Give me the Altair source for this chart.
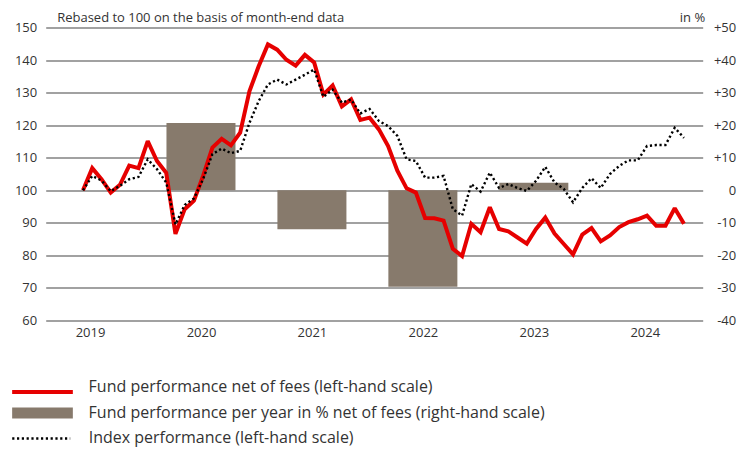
import altair as alt
import pandas as pd

# ---- data ----
fund = [100.0, 106.8, 103.4, 99.3, 101.7, 107.6, 106.8, 115.1, 109.0, 105.4,
        86.6, 94.2, 96.8, 104.5, 113.1, 115.8, 113.8, 117.7, 130.4, 138.1,
        144.8, 143.2, 140.1, 138.3, 141.6, 139.3, 129.4, 132.2, 125.8, 127.9,
        121.6, 122.3, 118.7, 113.6, 106.0, 100.6, 99.3, 91.5, 91.4, 90.7,
        82.0, 79.8, 89.7, 87.1, 94.8, 88.1, 87.4, 85.5, 83.6, 88.1,
        91.6, 86.7, 83.5, 80.3, 86.4, 88.4, 84.3, 86.1, 88.7, 90.2,
        91.1, 92.2, 89.1, 89.1, 94.5, 89.7]
index_perf = [100.0, 104.4, 103.0, 99.7, 101.4, 103.4, 104.1, 109.5, 106.5, 102.4,
              89.5, 95.5, 97.5, 103.5, 111.1, 112.8, 111.4, 112.1, 120.7, 127.4,
              132.5, 134.0, 132.5, 134.0, 135.5, 137.1, 128.7, 130.9, 126.9, 127.9,
              123.6, 125.0, 121.3, 119.7, 116.7, 109.5, 109.0, 103.9, 103.9, 104.4,
              94.2, 92.2, 101.9, 99.6, 105.4, 100.7, 101.9, 100.7, 99.8, 102.9,
              107.2, 102.4, 100.4, 96.3, 100.7, 103.7, 100.7, 105.0, 107.5, 109.2,
              109.2, 113.6, 113.9, 113.9, 119.2, 116.1]
bar_years = [2020, 2021, 2022, 2023]
bar_values = [20.7, -12.0, -29.6, 2.3]
year_labels = [2019, 2020, 2021, 2022, 2023, 2024]
left_ticks = [60, 70, 80, 90, 100, 110, 120, 130, 140, 150]
right_ticks = [-40, -30, -20, -10, 0, 10, 20, 30, 40, 50]

L1 = "Fund performance net of fees (left-hand scale)"
L2 = "Fund performance per year in % net of fees (right-hand scale)"
L3 = "Index performance (left-hand scale)"
TITLE_L = "Rebased to 100 on the basis of month-end data"
TITLE_R = "in %"

FONT = "Open Sans"
TXT = "#333333"
RED = "#e60000"
BROWN = "#877a6c"
GRID = "#828282"

# month-end positions as decimal years (first point: end of May 2019)
t = [2019 + 5 / 12 + i / 12 for i in range(len(fund))]
fund_df = pd.DataFrame({"t": t, "v": fund, "lbl": L1})
idx_df = pd.DataFrame({"t": t, "v": index_perf, "lbl": L3})
bar_df = pd.DataFrame({"year": bar_years, "v": bar_values, "lbl": L2})

xscale = alt.Scale(domain=[2019.0805, 2025.002], nice=False, zero=False)
x_axis = alt.Axis(values=[y + 0.48 for y in year_labels], labelExpr="'' + floor(datum.value)",
                  grid=False, domain=False, ticks=False, tickSize=0, labelPadding=6.5,
                  labelFontSize=13, labelFont=FONT, labelColor=TXT, title=None)

left_axis = alt.Axis(orient="left", values=left_ticks, grid=True, gridColor=GRID, gridWidth=1.6,
                     domain=False, ticks=False, tickSize=0, labelPadding=9, labelFontSize=13,
                     labelFont=FONT, labelColor=TXT, title=TITLE_L, titleAngle=0,
                     titleAlign="left", titleBaseline="alphabetic", titleX=11, titleY=-6.5,
                     titleFont=FONT, titleFontSize=13, titleFontWeight="normal", titleColor=TXT)
right_axis = alt.Axis(orient="right", values=right_ticks, grid=False, domain=False, ticks=False,
                      tickSize=0, labelAlign="right", labelPadding=33,
                      labelExpr="datum.value > 0 ? '+' + datum.value : '' + datum.value",
                      labelFontSize=13, labelFont=FONT, labelColor=TXT, title=TITLE_R, titleAngle=0,
                      titleAlign="right", titleBaseline="alphabetic", titleX=2, titleY=-6.5,
                      titleFont=FONT, titleFontSize=13, titleFontWeight="normal", titleColor=TXT)

leg_common = dict(orient="none", title=None, padding=0, offset=0, labelFont=FONT,
                  labelFontSize=16, labelColor=TXT, labelLimit=700)

bars = alt.Chart(bar_df).transform_calculate(
    x1="datum.year + 0.48 - 0.311", x2="datum.year + 0.48 + 0.311"
).mark_rect().encode(
    x=alt.X("x1:Q", scale=xscale, axis=x_axis),
    x2="x2:Q",
    y=alt.Y("v:Q", scale=alt.Scale(domain=[-40, 50], nice=False), axis=right_axis),
    y2=alt.datum(0),
    fill=alt.Fill("lbl:N", scale=alt.Scale(domain=[L2], range=[BROWN]),
                  legend=alt.Legend(symbolType="M-1,-0.18H1V0.18H-1Z", symbolSize=3684,
                                    symbolStrokeWidth=0, symbolOpacity=1, labelOffset=15.6,
                                    labelBaseline="middle", legendX=-33.7, legendY=355,
                                    **leg_common)),
)

yscale = alt.Scale(domain=[60, 150], nice=False, zero=False)
red = alt.Chart(fund_df).mark_line(strokeWidth=4, strokeJoin="miter", strokeMiterLimit=2).encode(
    x=alt.X("t:Q", scale=xscale, axis=x_axis),
    y=alt.Y("v:Q", scale=yscale, axis=left_axis),
    stroke=alt.Stroke("lbl:N", scale=alt.Scale(domain=[L1], range=[RED]),
                      legend=alt.Legend(symbolType="stroke", symbolSize=3684, symbolStrokeWidth=4,
                                        labelOffset=13.6, labelBaseline="alphabetic",
                                        legendX=-35.7, legendY=331.9, **leg_common)),
)
idx = alt.Chart(idx_df).mark_line(strokeWidth=2.4, color="black").encode(
    x=alt.X("t:Q", scale=xscale, axis=x_axis),
    y=alt.Y("v:Q", scale=yscale, axis=left_axis),
    strokeDash=alt.StrokeDash("lbl:N", scale=alt.Scale(domain=[L3], range=[[2.2, 2.6]]),
                              legend=alt.Legend(symbolType="stroke", symbolSize=3364,
                                                symbolStrokeWidth=2.4, symbolStrokeColor="black",
                                                labelOffset=17, labelBaseline="middle",
                                                legendX=-35, legendY=380.5, **leg_common)),
)

chart = alt.layer(bars, alt.layer(red, idx)).resolve_scale(y="independent").properties(
    width=657, height=293,
    autosize=alt.AutoSizeParams(type="none"),
    padding={"left": 37.7, "top": 19.5, "right": 37, "bottom": 129},
).configure_view(stroke=None)

chart.save("out.html", embed_options={"renderer": "svg", "actions": False})
